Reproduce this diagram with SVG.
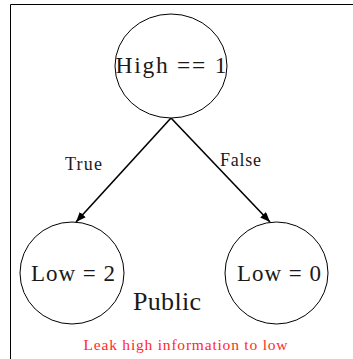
<svg xmlns="http://www.w3.org/2000/svg" width="353" height="359" viewBox="0 0 353 359">
  <defs>
    <marker id="arrow" viewBox="0 0 10 8" refX="10" refY="4" markerWidth="10" markerHeight="8" markerUnits="userSpaceOnUse" orient="auto">
      <path d="M0,0 L10,4 L0,8 z" fill="#000"/>
    </marker>
    <style>
      .node { fill: #fff; stroke: #000; stroke-width: 1; }
      .label { font-family: "Liberation Serif", "DejaVu Serif", serif; fill: #1a1a1a; text-anchor: middle; }
      .edge { stroke: #000; stroke-width: 1.6; fill: none; }
      .frame { stroke: #000; stroke-width: 1; fill: none; }
      .note { fill: #ff2a2a; }
    </style>
  </defs>
  <rect width="353" height="359" fill="#fff"/>
  <!-- region frame (open on right and bottom) -->
  <path class="frame" d="M10.5,359 V4.5 H353"/>

  <g id="edges">
    <line class="edge" x1="171" y1="118" x2="76" y2="222" marker-end="url(#arrow)"/>
    <line class="edge" x1="171" y1="118" x2="270" y2="222" marker-end="url(#arrow)"/>
    <text class="label" x="83.5" y="169.5" font-size="18" textLength="37">True</text>
    <text class="label" x="240.5" y="165.5" font-size="18" textLength="41">False</text>
  </g>

  <g id="high">
    <ellipse class="node" cx="171" cy="66" rx="56" ry="52"/>
    <text class="label" x="171" y="73" font-size="23.5" textLength="111">High == 1</text>
  </g>

  <g id="low2">
    <ellipse class="node" cx="72" cy="273" rx="52" ry="51"/>
    <text class="label" x="73" y="281" font-size="23" textLength="84">Low = 2</text>
  </g>

  <g id="low0">
    <ellipse class="node" cx="276.5" cy="273" rx="51.5" ry="51"/>
    <text class="label" x="279" y="281" font-size="23" textLength="84">Low = 0</text>
  </g>

  <text class="label" x="167" y="310" font-size="26" textLength="68">Public</text>
  <text class="label note" x="185.5" y="350" font-size="15.5" textLength="204">Leak high information to low</text>
</svg>
